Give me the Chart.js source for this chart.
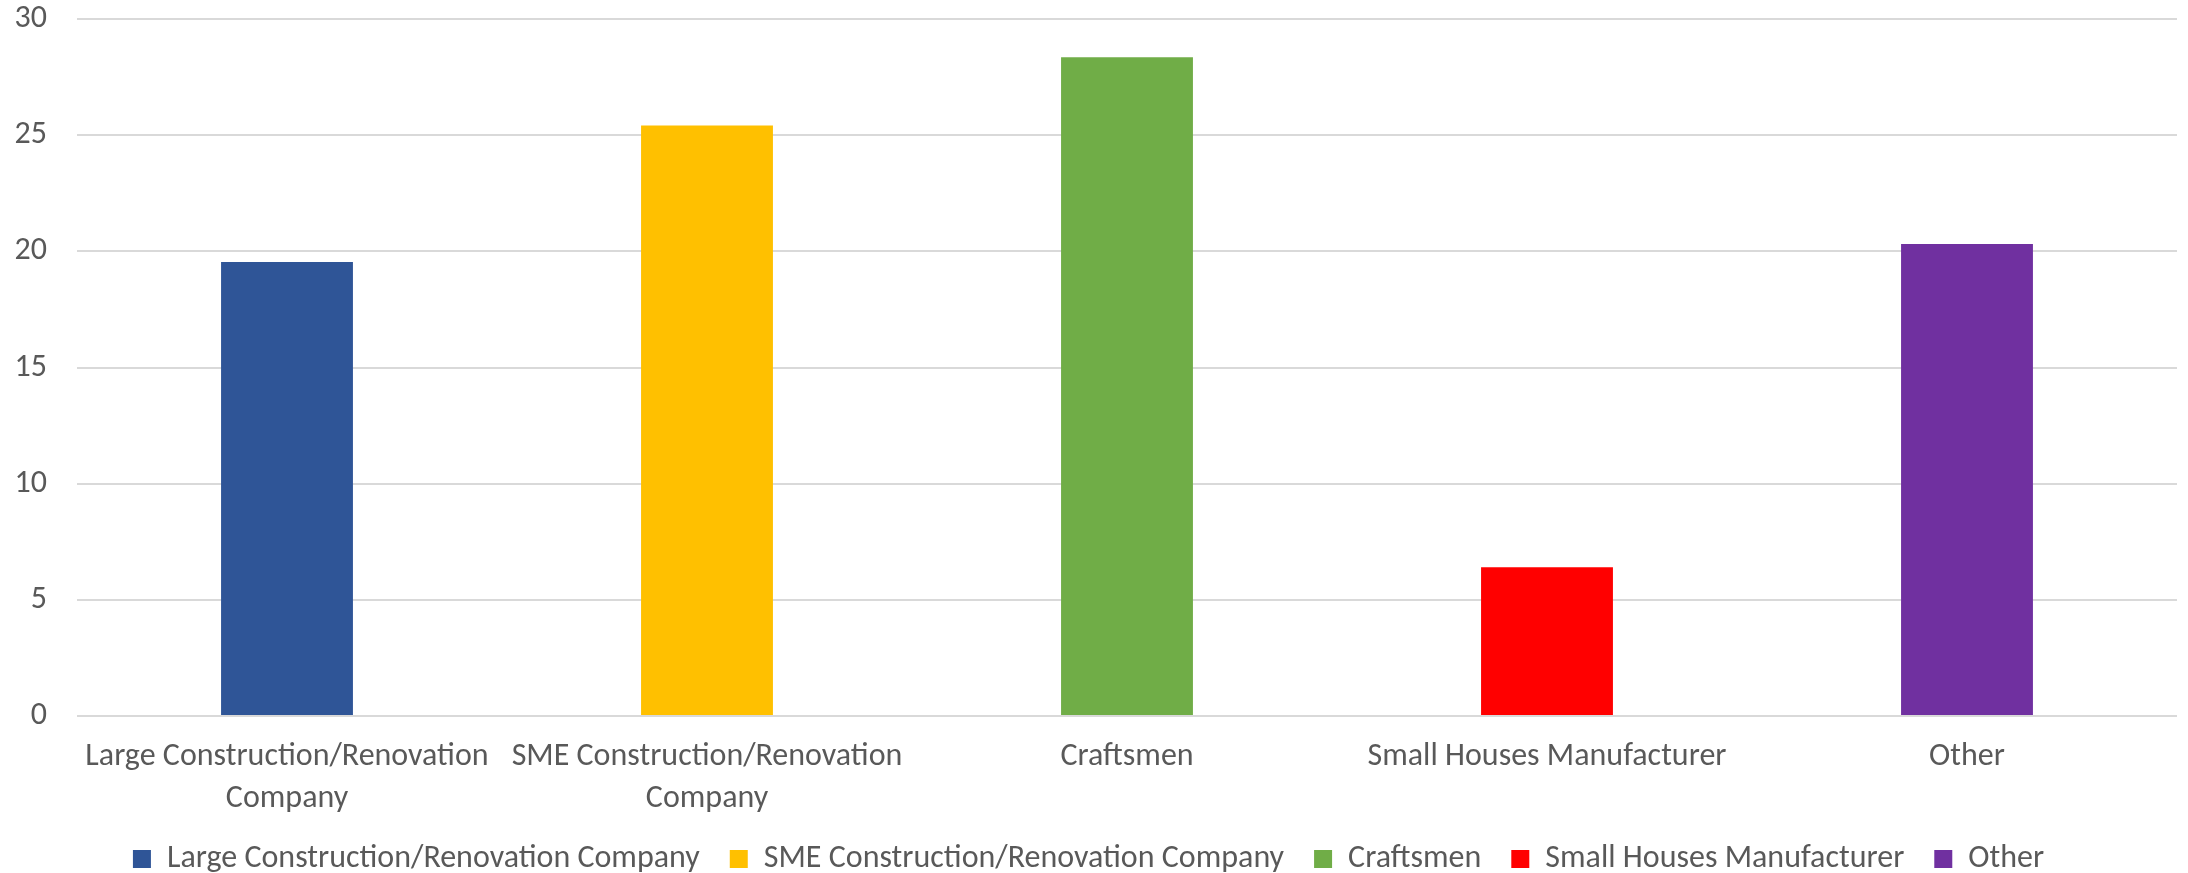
<!DOCTYPE html>
<html>
<head>
<meta charset="utf-8">
<script src="https://cdn.jsdelivr.net/npm/chart.js@4.4.0/dist/chart.umd.min.js"></script>
<style>
  html, body { margin: 0; padding: 0; background: #fff; }
  #wrap { width: 2188px; height: 873px; }
</style>
</head>
<body>
<div id="wrap"><canvas id="chart"></canvas></div>
<script>
// survey answers per respondent type
const categories = ['Large Construction/Renovation Company', 'SME Construction/Renovation Company', 'Craftsmen', 'Small Houses Manufacturer', 'Other']
const axisLabels = [['Large Construction/Renovation', 'Company'], ['SME Construction/Renovation', 'Company'], 'Craftsmen', 'Small Houses Manufacturer', 'Other']
const values = [19.55, 25.42, 28.36, 6.40, 20.32]
const colors = ['#2F5597', '#FFC000', '#70AD47', '#FF0000', '#7030A0']
const yTicks = [0, 5, 10, 15, 20, 25, 30]

const FONT = 'Carlito, Calibri, Lato, sans-serif'
const TEXT = '#595959'
const GRID = '#D9D9D9'

Chart.defaults.font.family = FONT
Chart.defaults.font.size = 32
Chart.defaults.color = TEXT

const chart = new Chart(document.getElementById('chart'), {
    type: 'bar',
    data: {
        labels: axisLabels,
        datasets: [{
            data: values,
            backgroundColor: colors,
            borderWidth: 0,
            categoryPercentage: 1,
            barPercentage: 0.314
        }]
    },
    options: {
        responsive: true,
        maintainAspectRatio: false,
        animation: false,
        layout: {
            padding: { top: 19, right: 11, bottom: -12, left: 0 }
        },
        scales: {
            x: {
                grid: { display: false, drawTicks: false },
                border: { display: false },
                ticks: {
                    autoSkip: false,
                    maxRotation: 0,
                    padding: 20,
                    font: { size: 32, lineHeight: 1.31 }
                },
                afterFit: (scale) => { scale.height = 97 }
            },
            y: {
                min: 0,
                max: 30,
                afterBuildTicks: (scale) => {
                    scale.ticks = yTicks.map(v => ({ value: v }))
                },
                // invisible tick marks keep the labels clear of the grid
                grid: { color: GRID, lineWidth: 2, drawTicks: true, tickLength: 30, tickColor: 'rgba(0,0,0,0)' },
                border: { display: false },
                ticks: { padding: 0 },
                afterFit: (scale) => { scale.width = 77 }
            }
        },
        plugins: {
            tooltip: { enabled: false },
            legend: {
                position: 'bottom',
                labels: {
                    boxWidth: 18,
                    boxHeight: 18,
                    padding: 30,
                    font: { size: 32 },
                    generateLabels: (c) => categories.map((name, i) => ({
                        text: name,
                        fillStyle: colors[i],
                        strokeStyle: colors[i],
                        lineWidth: 0,
                        fontColor: TEXT,
                        index: i
                    }))
                }
            }
        }
    }
})
</script>
</body>
</html>
